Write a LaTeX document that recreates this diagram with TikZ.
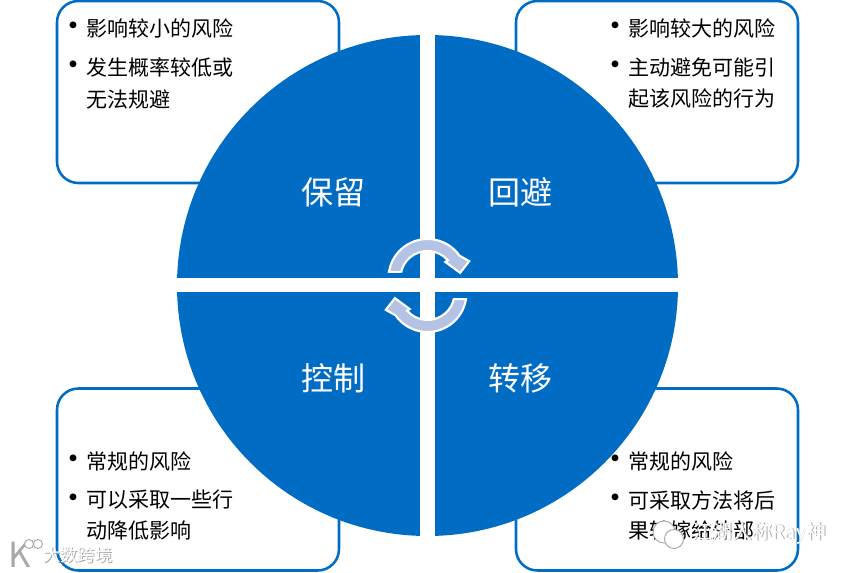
\documentclass[tikz,border=0pt]{standalone}
\usepackage{fontspec}
\setmainfont{Noto Sans CJK SC}
\usepackage{tikz}
\usetikzlibrary{positioning}
\definecolor{riskblue}{HTML}{006CC4}
\definecolor{arrowfill}{HTML}{B4C2E4}
\definecolor{markgray}{HTML}{A8A8A8}
\tikzset{
  riskbox/.style ={rectangle,draw=riskblue,fill=white,line width=1.9pt,rounded corners=16pt,
                   minimum width=211.5pt,minimum height=136.5pt,inner sep=0pt},
  item/.style    ={anchor=west,inner sep=0pt,font=\fontsize{15.75pt}{18pt}\selectfont,text=black},
  dotmark/.style ={inner sep=0pt,yshift=-1.5pt,font=\fontsize{24pt}{24pt}\selectfont,text=black},
  quad/.style    ={inner sep=0pt,font=\fontsize{24pt}{28pt}\selectfont,text=white},
  gap/.style     ={fill=white,draw=none},
  turn/.style    ={fill=arrowfill,draw=white,line width=1.6pt,line join=miter},
  markshade/.style={anchor=west,inner sep=0pt,text=markgray,font=\fontsize{15pt}{17pt}\selectfont},
  marktext/.style ={anchor=west,inner sep=0pt,text=white,font=\fontsize{15pt}{17pt}\selectfont},
  markline/.style ={draw=markgray,fill=white,line width=0.7pt},
  turnarrow/.pic={
    \draw[turn] ([shift={(0,7.5)}]171:39) arc[start angle=171,end angle=35,radius=39]
      -- ([shift={(0,7.5)}]22:45) -- ([shift={(0,7.5)}]9:33) -- ([shift={(0,7.5)}]42:24)
      -- ([shift={(0,7.5)}]41:27) arc[start angle=41,end angle=167,radius=27] -- cycle;
  },
}

\begin{document}
\begin{tikzpicture}[x=0.75pt,y=0.75pt]
\useasboundingbox (0,0) rectangle (854,572);

% Boxes
\node[riskbox] (keepbox) at (198,480) {};
\node[riskbox] (avoidbox) at (657,480) {};
\node[riskbox] (ctrlbox) at (198,92.5) {};
\node[riskbox] (movebox) at (657,92.5) {};

% Disc and the white cross
\fill[riskblue] (427.5,286.5) circle (250.5);
\fill[gap] (420,30) rectangle (435,542);
\fill[gap] (170,280) rectangle (685,294);

% Quadrant labels
\node[quad] (keep) at (333.5,380) {保留};
\node[quad] (avoid) at (520.5,380) {回避};
\node[quad] (ctrl) at (333.5,194) {控制};
\node[quad] (move) at (520.5,194) {转移};

% Text, top left
\node[dotmark] (d1) at (73,544) {•};
\node[item] (t1) at (86,544) {影响较小的风险};
\node[dotmark] (d2) at (73,505) {•};
\node[item] (t2) at (86,505) {发生概率较低或};
\node[item] (t3) at (86,473) {无法规避};

% Text, top right
\node[dotmark] (d3) at (615,544) {•};
\node[item] (t4) at (628,544) {影响较大的风险};
\node[dotmark] (d4) at (615,505) {•};
\node[item] (t5) at (628,505) {主动避免可能引};
\node[item] (t6) at (628,473) {起该风险的行为};

% Text, bottom left
\node[dotmark] (d5) at (73,111) {•};
\node[item] (t7) at (86,111) {常规的风险};
\node[dotmark] (d6) at (73,72) {•};
\node[item] (t8) at (86,72) {可以采取一些行};
\node[item] (t9) at (86,41) {动降低影响};

% Text, bottom right
\node[dotmark] (d7) at (615,111) {•};
\node[item] (t10) at (628,111) {常规的风险};
\node[dotmark] (d8) at (615,72) {•};
\node[item] (t11) at (628,72) {可采取方法将后};
\node[item] (t12) at (628,41) {果转嫁给外部};

% Turning arrows
\pic at (427.5,286.5) {turnarrow};
\pic[rotate=180] at (427.5,286.5) {turnarrow};

% Watermark, bottom left
\node[markshade] (logoa) at (8,17) {\fontsize{26pt}{28pt}\selectfont K};
\draw[markline] (29,28) circle (4.5);
\draw[markline] (38,28) circle (4.5);
\node[markshade,font=\fontsize{13pt}{15pt}\selectfont] (marka) at (43.8,16.2) {大数跨境};
\node[marktext,font=\fontsize{13pt}{15pt}\selectfont] (markb) at (43,17) {大数跨境};

% Watermark, bottom right
\draw[markline] (664,40) circle (11);
\draw[markline] (674,33) circle (9.5);
\node[markshade] (markc) at (692.8,38.2) {江湖人称Ray神};
\node[marktext] (markd) at (692,39) {江湖人称Ray神};
\end{tikzpicture}
\end{document}
